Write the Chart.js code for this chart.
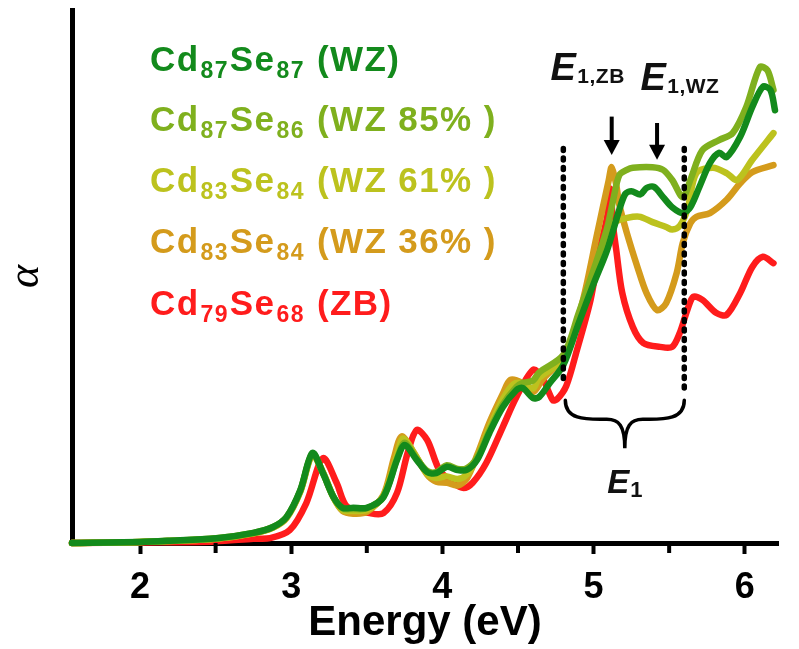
<!DOCTYPE html>
<html>
<head>
<meta charset="utf-8">
<script src="https://cdn.jsdelivr.net/npm/chart.js@4/dist/chart.umd.min.js"></script>
<style>
  html, body { margin: 0; padding: 0; background: #ffffff; }
  canvas { display: block; }
</style>
</head>
<body>
<canvas id="spectrum" width="799" height="649"></canvas>
<script>
// ---- Absorption spectra of CdSe clusters (α vs photon energy) ----

// Legend formula pieces
const legendCd    = ['87', '87', '83', '83', '79'];
const legendSe    = ['87', '86', '84', '84', '68'];
const legendPhase = ['(WZ)', '(WZ 85% )', '(WZ 61% )', '(WZ 36% )', '(ZB)'];

// x-axis ticks (eV)
const majorTicks = [2, 3, 4, 5, 6];
const minorTicks = [2.5, 3.5, 4.5, 5.5];

// E1 band: window edges and the two transition energies (eV)
const e1Window = [4.80, 5.60];
const e1Peaks  = [5.12, 5.42];

// Cd87Se87 (WZ)
const energyWZ = [1.55, 2.00, 2.18, 2.51, 2.75, 2.88, 2.97, 3.06, 3.14, 3.21, 3.28, 3.34, 3.41, 3.50, 3.61, 3.70, 3.75, 3.83, 3.90, 3.96, 4.03, 4.10, 4.16, 4.23, 4.31, 4.40, 4.49, 4.53, 4.60, 4.64, 4.71, 4.80, 4.90, 5.00, 5.09, 5.17, 5.21, 5.25, 5.31, 5.35, 5.40, 5.46, 5.52, 5.59, 5.64, 5.70, 5.77, 5.83, 5.88, 5.97, 6.05, 6.12, 6.17, 6.20];
const alphaWZ  = [0, 0.2, 0.4, 0.9, 1.9, 3.0, 4.9, 9.9, 16.9, 13.1, 8.6, 6.6, 6.6, 6.6, 8.6, 15.6, 18.4, 15.6, 13.3, 13.1, 14.3, 13.7, 13.7, 15.6, 20.6, 25.5, 28.7, 29.1, 27.2, 27.4, 30.0, 33.4, 41.1, 48.6, 55.0, 62.5, 65.5, 66.0, 65.4, 66.6, 66.8, 64.9, 63.0, 61.9, 63.0, 66.8, 71.3, 73.2, 72.4, 76.2, 81.8, 85.6, 85.0, 81.2];

// Cd87Se86 (WZ 85%)
const energyWZ85 = [1.55, 2.00, 2.50, 2.75, 2.88, 2.97, 3.06, 3.14, 3.21, 3.28, 3.34, 3.41, 3.50, 3.61, 3.70, 3.75, 3.83, 3.90, 3.96, 4.03, 4.10, 4.16, 4.23, 4.31, 4.40, 4.49, 4.53, 4.60, 4.64, 4.80, 4.90, 5.00, 5.09, 5.13, 5.17, 5.22, 5.26, 5.39, 5.46, 5.52, 5.59, 5.64, 5.72, 5.83, 5.92, 6.01, 6.10, 6.15, 6.19];
const alphaWZ85  = [0, 0.2, 0.9, 1.9, 3.0, 4.9, 9.8, 16.8, 13.1, 8.6, 6.5, 6.4, 6.5, 8.7, 15.8, 18.8, 15.8, 13.5, 13.3, 14.6, 13.9, 14.0, 16.0, 21.0, 26.0, 29.3, 30.0, 30.5, 32.0, 35.3, 43.0, 51.2, 59.1, 64.4, 69.0, 70.0, 70.4, 70.5, 70.0, 68.1, 64.9, 68.1, 73.7, 75.6, 76.9, 81.8, 89.3, 88.7, 85.0];

// Cd83Se84 (WZ 61%)
const energyWZ61 = [1.55, 2.00, 2.50, 2.75, 2.88, 2.97, 3.06, 3.14, 3.21, 3.28, 3.34, 3.41, 3.50, 3.61, 3.70, 3.74, 3.82, 3.90, 3.96, 4.03, 4.10, 4.16, 4.23, 4.31, 4.40, 4.47, 4.53, 4.60, 4.64, 4.80, 4.90, 5.00, 5.09, 5.13, 5.17, 5.26, 5.31, 5.39, 5.48, 5.52, 5.57, 5.62, 5.68, 5.79, 5.88, 5.95, 6.05, 6.19];
const alphaWZ61  = [0, 0.2, 0.8, 1.8, 2.9, 4.8, 9.7, 16.6, 13.2, 8.5, 6.2, 6.0, 6.2, 8.8, 16.5, 19.6, 16.5, 13.0, 12.2, 12.5, 12.0, 12.8, 16.0, 21.5, 27.0, 29.8, 30.0, 29.0, 31.0, 34.5, 42.5, 50.5, 57.5, 60.0, 60.6, 61.2, 61.2, 60.2, 59.3, 58.8, 59.5, 62.5, 69.4, 70.4, 69.4, 68.1, 71.9, 76.9];

// Cd83Se84 (WZ 36%)
const energyWZ36 = [1.55, 2.00, 2.50, 2.75, 2.88, 2.97, 3.06, 3.14, 3.21, 3.28, 3.34, 3.41, 3.50, 3.61, 3.68, 3.73, 3.80, 3.90, 3.96, 4.03, 4.10, 4.16, 4.23, 4.31, 4.40, 4.45, 4.53, 4.60, 4.66, 4.82, 4.93, 5.02, 5.06, 5.10, 5.12, 5.15, 5.17, 5.22, 5.29, 5.35, 5.42, 5.48, 5.55, 5.59, 5.64, 5.68, 5.77, 5.88, 5.97, 6.05, 6.19];
const alphaWZ36  = [0, 0.2, 0.8, 1.8, 2.9, 4.7, 9.6, 16.5, 13.3, 8.6, 6.0, 5.5, 5.8, 9.0, 16.0, 20.0, 17.5, 12.8, 11.5, 11.3, 10.8, 12.0, 16.5, 22.5, 28.0, 30.6, 30.0, 28.3, 30.6, 35.6, 45.6, 57.5, 62.8, 68.0, 70.5, 67.2, 63.5, 58.2, 51.8, 46.9, 43.7, 45.0, 50.7, 56.3, 60.0, 61.2, 61.9, 64.4, 67.5, 69.6, 70.9];

// Cd79Se68 (ZB)
const energyZB = [1.55, 2.00, 2.50, 2.75, 2.86, 2.99, 3.10, 3.21, 3.30, 3.37, 3.52, 3.61, 3.70, 3.77, 3.83, 3.90, 3.98, 4.07, 4.14, 4.20, 4.29, 4.40, 4.49, 4.60, 4.66, 4.73, 4.76, 4.82, 4.89, 4.98, 5.04, 5.09, 5.11, 5.13, 5.15, 5.19, 5.26, 5.33, 5.44, 5.52, 5.57, 5.62, 5.66, 5.72, 5.81, 5.88, 5.97, 6.05, 6.12, 6.19];
const alphaZB  = [0, 0.1, 0.3, 0.8, 0.9, 2.4, 7.5, 15.9, 11.3, 6.8, 5.6, 5.6, 9.4, 16.9, 21.2, 19.3, 13.7, 11.3, 10.3, 11.3, 15.0, 21.8, 27.4, 32.5, 31.1, 26.8, 27.0, 29.5, 36.2, 45.6, 55.0, 61.2, 66.5, 59.3, 55.0, 46.9, 40.5, 37.5, 36.8, 36.8, 39.4, 43.7, 46.2, 45.6, 43.2, 42.8, 46.9, 51.8, 53.7, 52.5];

const seriesColors = ['#138a1c', '#7fb01e', '#bcc21e', '#d49b1c', '#ff1c1c'];

// ---------------------------------------------------------------
const FONT = '"Liberation Sans", Arial, Helvetica, sans-serif';
Chart.defaults.font.family = FONT;
Chart.defaults.color = '#000';

function pairUp(xs, ys) {
  const n = Math.min(xs.length, ys.length);
  const out = [];
  for (let i = 0; i < n; i++) out.push({ x: xs[i], y: ys[i] });
  return out;
}

const seriesData = [
  pairUp(energyWZ, alphaWZ),
  pairUp(energyWZ85, alphaWZ85),
  pairUp(energyWZ61, alphaWZ61),
  pairUp(energyWZ36, alphaWZ36),
  pairUp(energyZB, alphaZB)
];

const datasets = seriesData.map((pts, i) => ({
  label: 'Cd' + legendCd[i] + 'Se' + legendSe[i] + ' ' + legendPhase[i],
  data: pts,
  borderColor: seriesColors[i],
  backgroundColor: seriesColors[i],
  borderWidth: 6.5,
  pointRadius: 0,
  tension: 0.3,
  borderJoinStyle: 'round',
  borderCapStyle: 'round',
  clip: false,
  fill: false
}));

// Text with subscripts: parts = [[text, isSub], ...]
function drawRichText(ctx, x0, yBase, parts, opts) {
  let xx = x0;
  ctx.textAlign = 'left';
  ctx.textBaseline = 'alphabetic';
  if ('letterSpacing' in ctx) ctx.letterSpacing = (opts.spacing || 0) + 'px';
  parts.forEach(([txt, sub]) => {
    ctx.font = sub ? opts.subFont : opts.mainFont;
    ctx.fillText(txt, xx, yBase + (sub ? opts.drop : 0));
    xx += ctx.measureText(txt).width + (sub ? opts.subGap : opts.mainGap);
  });
  if ('letterSpacing' in ctx) ctx.letterSpacing = '0px';
}

function drawArrow(ctx, x, yTop, yTip) {
  ctx.beginPath();
  ctx.moveTo(x, yTop);
  ctx.lineTo(x, yTip - 10);
  ctx.stroke();
  ctx.beginPath();
  ctx.moveTo(x - 8, yTip - 15);
  ctx.lineTo(x + 8, yTip - 15);
  ctx.lineTo(x, yTip);
  ctx.closePath();
  ctx.fill();
}

const notesPlugin = {
  id: 'spectrumNotes',
  afterDraw(chart) {
    const { ctx } = chart;
    const xs = chart.scales.x, ys = chart.scales.y;
    const X = v => xs.getPixelForValue(v);
    const Y = v => ys.getPixelForValue(v);
    ctx.save();

    // minor tick marks at the half-eV positions
    ctx.strokeStyle = '#000';
    ctx.lineWidth = 4;
    ctx.lineCap = 'butt';
    minorTicks.forEach(v => {
      const px = X(v);
      ctx.beginPath();
      ctx.moveTo(px, ys.bottom);
      ctx.lineTo(px, ys.bottom + 10);
      ctx.stroke();
    });

    // legend with subscripted formulas
    const legendY = [71, 131, 192, 253, 315];
    legendCd.forEach((cd, i) => {
      ctx.fillStyle = seriesColors[i];
      drawRichText(ctx, 150, legendY[i],
        [['Cd', false], [cd, true], ['Se', false], [legendSe[i], true], [' ' + legendPhase[i], false]],
        { mainFont: 'bold 35px ' + FONT, subFont: 'bold 23px ' + FONT, drop: 7, subGap: 1, mainGap: 1, spacing: 1.4 });
    });

    // dotted window lines bounding E1
    ctx.strokeStyle = '#000';
    ctx.fillStyle = '#000';
    ctx.lineWidth = 5.5;
    ctx.lineCap = 'round';
    ctx.setLineDash([2, 7.5]);
    ctx.beginPath();
    ctx.moveTo(X(e1Window[0]), Y(74));
    ctx.lineTo(X(e1Window[0]), Y(30.5));
    ctx.moveTo(X(e1Window[1]), Y(74));
    ctx.lineTo(X(e1Window[1]), Y(29));
    ctx.stroke();
    ctx.setLineDash([]);

    // brace under the window
    const bl = X(e1Window[0]) + 2, br = X(e1Window[1]);
    const bm = (bl + br) / 2;
    const yTop = Y(26.8), yMid = Y(23.2), yTip = Y(17.8);
    ctx.lineWidth = 3.5;
    ctx.lineCap = 'round';
    ctx.beginPath();
    ctx.moveTo(bl, yTop);
    ctx.bezierCurveTo(bl, yMid, bl + 20, yMid, bl + 35, yMid);
    ctx.lineTo(bm - 18, yMid);
    ctx.bezierCurveTo(bm - 6, yMid, bm, yMid + 6, bm, yTip);
    ctx.bezierCurveTo(bm, yMid + 6, bm + 6, yMid, bm + 18, yMid);
    ctx.lineTo(br - 35, yMid);
    ctx.bezierCurveTo(br - 20, yMid, br, yMid, br, yTop);
    ctx.stroke();

    // arrows marking E1,ZB and E1,WZ
    ctx.lineWidth = 4;
    ctx.lineCap = 'butt';
    drawArrow(ctx, X(e1Peaks[0]), Y(80), Y(72.8));
    drawArrow(ctx, X(e1Peaks[1]), Y(78.8), Y(71.9));

    // labels
    ctx.fillStyle = '#111';
    const labOpts = { mainFont: 'italic bold 38px ' + FONT, subFont: 'bold 21px ' + FONT, drop: 3, subGap: 0, mainGap: 1, spacing: 0.5 };
    drawRichText(ctx, X(4.715), Y(86.8), [['E', false], ['1,ZB', true]], labOpts);
    drawRichText(ctx, X(5.31), Y(85.0), [['E', false], ['1,WZ', true]], labOpts);
    drawRichText(ctx, X(5.09), Y(9.4), [['E', false], ['1', true]],
      { mainFont: 'italic bold 33px ' + FONT, subFont: 'bold 22px ' + FONT, drop: 4, subGap: 0, mainGap: 1 });

    ctx.restore();
  }
};

new Chart(document.getElementById('spectrum'), {
  type: 'line',
  data: { datasets },
  plugins: [notesPlugin],
  options: {
    responsive: false,
    animation: false,
    events: [],
    layout: { padding: { left: 0, right: 21, top: 10, bottom: 0 } },
    plugins: {
      legend: { display: false },
      tooltip: { enabled: false }
    },
    scales: {
      x: {
        type: 'linear',
        min: 1.55,
        max: 6.22,
        afterBuildTicks: s => { s.ticks = majorTicks.map(v => ({ value: v })); },
        afterFit: s => { s.height = 106; },
        ticks: {
          color: '#000',
          padding: 12,
          maxRotation: 0,
          font: { size: 36, weight: 'bold' },
          callback: v => String(v)
        },
        grid: {
          drawOnChartArea: false,
          drawTicks: true,
          tickLength: 11,
          tickWidth: 4,
          tickColor: '#000'
        },
        border: { display: true, width: 5, color: '#000' },
        title: {
          display: true,
          text: 'Energy (eV)',
          color: '#000',
          font: { size: 42, weight: 'bold' },
          padding: { top: 0, bottom: 0 }
        }
      },
      y: {
        type: 'linear',
        min: 0,
        max: 100,
        afterFit: s => { s.width = 72; },
        ticks: { display: false },
        grid: { display: false, drawTicks: false },
        border: { display: true, width: 5, color: '#000' },
        title: {
          display: true,
          text: 'α',
          color: '#000',
          font: { family: '"Liberation Serif", "DejaVu Serif", serif', size: 44, style: 'italic' },
          padding: { top: 0, bottom: 0 }
        }
      }
    }
  }
});
</script>
</body>
</html>
